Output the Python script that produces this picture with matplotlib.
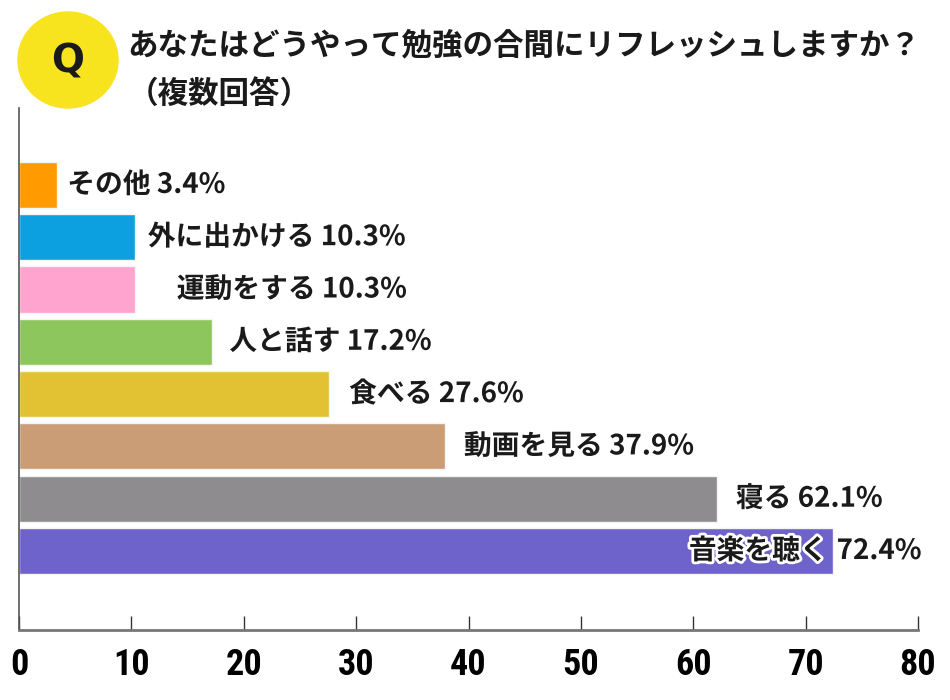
import matplotlib
matplotlib.use("Agg")
import matplotlib.pyplot as plt
import matplotlib.patheffects as pe
from matplotlib.patches import Ellipse
from matplotlib import font_manager as fm

plt.rcParams['font.family'] = ['Noto Sans CJK JP', 'DejaVu Sans']

categories = ["その他", "外に出かける", "運動をする", "人と話す", "食べる", "動画を見る", "寝る", "音楽を聴く"]
values = [3.4, 10.3, 10.3, 17.2, 27.6, 37.9, 62.1, 72.4]
colors = ["#FF9A00", "#0CA0E0", "#FFA3CF", "#8DC65C", "#E2C232", "#CA9D77", "#8E8C8E", "#6E63CA"]
xticks = [0, 10, 20, 30, 40, 50, 60, 70, 80]
title_line1 = "あなたはどうやって勉強の合間にリフレッシュしますか？"
title_line2 = "（複数回答）"

label_gap_px = [10, 13, 42, 17, 20, 19, 19, 0]

# pick a narrow font for tick labels if available
names = {f.name for f in fm.fontManager.ttflist}
narrow = None
for cand in ["Liberation Sans Narrow", "DejaVu Sans Condensed", "Roboto Condensed", "Open Sans Condensed"]:
    if cand in names:
        narrow = cand
        break
tick_family = [narrow, "DejaVu Sans"] if narrow else ["DejaVu Sans"]

fig = plt.figure(figsize=(9.5, 7), dpi=100)
ax = fig.add_axes([19/950, 1-630/700, (918-19)/950, (630-108)/700])

n = len(categories)
ypos = [n - 1 - i for i in range(n)]
ax.barh(ypos, values, height=0.88, color=colors, edgecolor="#f4f4f4", linewidth=1.0, zorder=2)

ax.set_xlim(0, 80)
ax.set_ylim(-1.51, n - 1 + 1.47)

stroke = [pe.withStroke(linewidth=4, foreground="white")]
fs = 20
for i, (cat, v, y) in enumerate(zip(categories, values, ypos)):
    if i == n - 1:
        ax.annotate(cat, xy=(v, y), xytext=(-5, 0), textcoords="offset pixels",
                    ha="right", va="center", fontsize=fs, fontweight="bold",
                    color="#1a1a1a", path_effects=stroke, zorder=5)
        ax.annotate(f"{v}%", xy=(v, y), xytext=(4, 0), textcoords="offset pixels",
                    ha="left", va="center", fontsize=fs, fontweight="bold",
                    color="#1a1a1a", path_effects=stroke, zorder=5)
    else:
        ax.annotate(f"{cat} {v}%", xy=(v, y), xytext=(label_gap_px[i], 0), textcoords="offset pixels",
                    ha="left", va="center", fontsize=fs, fontweight="bold",
                    color="#1a1a1a", path_effects=stroke, zorder=5)

for s in ["top", "right"]:
    ax.spines[s].set_visible(False)
ax.spines["left"].set_color("#555555")
ax.spines["left"].set_linewidth(1.2)
ax.spines["bottom"].set_color("#777777")
ax.spines["bottom"].set_linewidth(2)
ax.set_yticks([])
ax.set_xticks(xticks)
ax.set_xticklabels([str(t) for t in xticks], fontsize=26, fontweight="bold",
                   family=tick_family, fontstretch="condensed")
ax.tick_params(axis="x", direction="in", length=10, width=1, color="#333333", pad=12)

# header badge
fig.add_artist(Ellipse((68/950, 1-60/700), 100/950, 96/700, transform=fig.transFigure,
                       color="#F7E31E", zorder=3))
fig.text(68/950, 1-62/700, "Q", ha="center", va="center", fontsize=28, fontweight="bold",
         color="#1a1a1a", family=["DejaVu Sans"])
fig.text(127/950, 1-45/700, title_line1, ha="left", va="center", fontsize=22,
         fontweight="bold", color="#1a1a1a")
fig.text(128/950, 1-94/700, title_line2, ha="left", va="center", fontsize=22,
         fontweight="bold", color="#1a1a1a")

fig.savefig("out.png", dpi=100, facecolor="white")
